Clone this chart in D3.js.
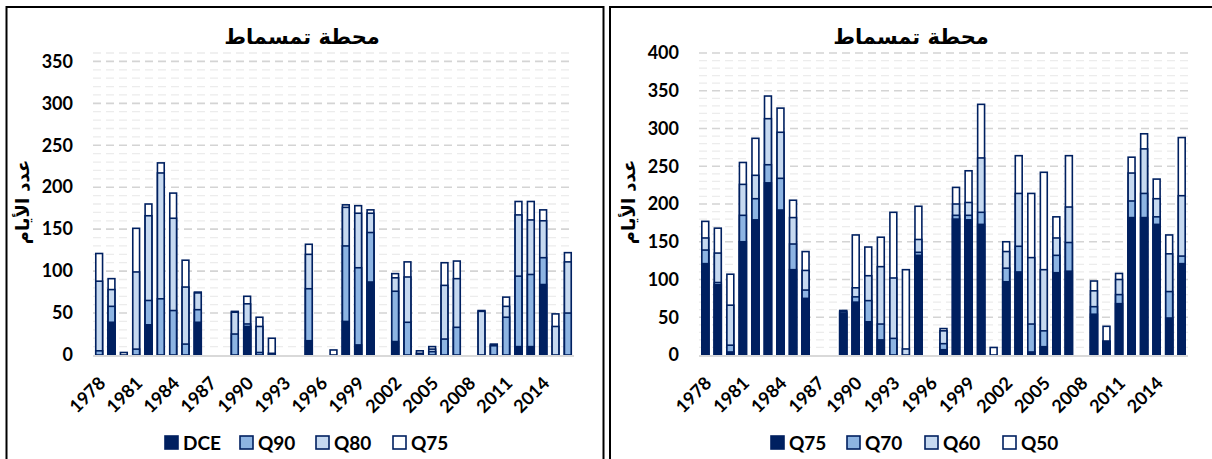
<!DOCTYPE html>
<html>
<head>
<meta charset="utf-8">
<script src="https://cdn.jsdelivr.net/npm/d3@7"></script>
<style>
  html, body { margin: 0; padding: 0; background: #fff; }
  svg { display: block; }
  .num { font-family: Lato, "Open Sans", sans-serif; font-weight: 700; fill: #000; }
  .ar { font-family: "DejaVu Sans", sans-serif; font-weight: 700; fill: #000; }
</style>
</head>
<body>
<svg id="chart" width="1212" height="459"></svg>
<script>
// Years on the category axis
const years = [1978, 1979, 1980, 1981, 1982, 1983, 1984, 1985, 1986, 1987,
               1988, 1989, 1990, 1991, 1992, 1993, 1994, 1995, 1996, 1997,
               1998, 1999, 2000, 2001, 2002, 2003, 2004, 2005, 2006, 2007,
               2008, 2009, 2010, 2011, 2012, 2013, 2014, 2015, 2016];
const yearTicks = [1978, 1981, 1984, 1987, 1990, 1993, 1996, 1999, 2002, 2005, 2008, 2011, 2014];

// Left panel: number of days per year (DCE and low-flow thresholds)
const leftQ75 = [121, 91, 3, 151, 180, 229, 193, 113, 75, 0, 0, 52, 70, 45, 20, 0, 0, 132, 0, 6,
                 179, 178, 173, 0, 97, 111, 5, 10, 110, 112, 0, 53, 13, 69, 183, 183, 173, 49, 122];
const leftQ80 = [88, 78, 0, 99, 166, 217, 163, 81, 74, 0, 0, 51, 61, 34, 2, 0, 0, 120, 0, 0,
                 176, 169, 169, 0, 92, 93, 2, 7, 83, 91, 0, 52, 12, 58, 167, 161, 160, 34, 111];
const leftQ90 = [5, 58, 0, 7, 65, 67, 53, 13, 54, 0, 0, 25, 37, 3, 0, 0, 0, 79, 0, 0,
                 130, 104, 146, 0, 76, 39, 0, 4, 19, 33, 0, 0, 11, 45, 94, 96, 116, 0, 50];
const leftDCE = [0, 39, 0, 0, 36, 0, 0, 0, 39, 0, 0, 0, 34, 0, 0, 0, 0, 17, 0, 0,
                 40, 12, 87, 0, 16, 0, 0, 0, 0, 0, 0, 0, 0, 0, 10, 10, 84, 0, 0];
const leftTicks = [0, 50, 100, 150, 200, 250, 300, 350];

// Right panel: number of days per year (flow percentiles)
const rightQ50 = [177, 168, 107, 255, 287, 343, 327, 205, 137, 0, 0, 59, 159, 143, 156, 189, 113, 197, 0, 35,
                  222, 244, 332, 10, 150, 264, 214, 242, 183, 264, 0, 98, 38, 108, 262, 293, 233, 159, 288];
const rightQ60 = [155, 135, 66, 226, 238, 313, 295, 182, 112, 0, 0, 58, 89, 105, 117, 102, 8, 153, 0, 32,
                  200, 202, 261, 0, 137, 214, 129, 113, 155, 196, 0, 85, 18, 100, 241, 273, 207, 134, 211];
const rightQ70 = [139, 96, 13, 185, 207, 252, 234, 147, 86, 0, 0, 57, 77, 72, 41, 22, 0, 136, 0, 15,
                  185, 185, 189, 0, 115, 144, 41, 32, 132, 149, 0, 64, 18, 80, 204, 214, 183, 84, 131];
const rightQ75 = [121, 93, 4, 150, 179, 228, 192, 113, 75, 0, 0, 55, 70, 44, 20, 0, 0, 132, 0, 7,
                  180, 179, 173, 0, 97, 110, 4, 11, 109, 111, 0, 54, 18, 68, 182, 182, 173, 49, 121];
const rightTicks = [0, 50, 100, 150, 200, 250, 300, 350, 400];

const title = "محطة تمسماط";
const yTitle = "عدد الأيام";

const NAVY = "#002060", MID = "#8DB4E2", LIGHT = "#C6D9F0", WHITE = "#FFFFFF";

const svg = d3.select("#chart");
svg.append("rect").attr("width", 1212).attr("height", 459).attr("fill", "#fff");

const panels = [
  {
    frame: { x: 6.5, y: 7, w: 597, h: 520 },
    plot: { x0: 93, x1: 574, top: 53, bottom: 355 },
    yMax: 360, ticks: leftTicks,
    titleX: 302, yTitleX: 23,
    // legend order: darkest first
    series: [
      { name: "DCE", values: leftDCE, fill: NAVY },
      { name: "Q90", values: leftQ90, fill: MID },
      { name: "Q80", values: leftQ80, fill: LIGHT },
      { name: "Q75", values: leftQ75, fill: WHITE }
    ],
    legendX: [164, 239, 315, 392]
  },
  {
    frame: { x: 610, y: 7, w: 620, h: 520 },
    plot: { x0: 699, x1: 1188, top: 53, bottom: 355 },
    yMax: 400, ticks: rightTicks,
    titleX: 911, yTitleX: 629,
    series: [
      { name: "Q75", values: rightQ75, fill: NAVY },
      { name: "Q70", values: rightQ70, fill: MID },
      { name: "Q60", values: rightQ60, fill: LIGHT },
      { name: "Q50", values: rightQ50, fill: WHITE }
    ],
    legendX: [770, 846, 924, 1002]
  }
];

panels.forEach(p => {
  const g = svg.append("g");

  // outer frame
  g.append("rect")
    .attr("x", p.frame.x).attr("y", p.frame.y)
    .attr("width", p.frame.w).attr("height", p.frame.h)
    .attr("fill", "none").attr("stroke", "#000").attr("stroke-width", 2);

  const x = d3.scaleBand().domain(years)
    .range([p.plot.x0, p.plot.x1])
    .paddingInner(0.45).paddingOuter(0.225);
  const y = d3.scaleLinear().domain([0, p.yMax]).range([p.plot.bottom, p.plot.top]);

  // minor gridlines every 10 days
  const minor = d3.range(10, p.yMax + 1, 10).filter(v => v % 50 !== 0);
  g.append("g").selectAll("line").data(minor).join("line")
    .attr("x1", p.plot.x0).attr("x2", p.plot.x1)
    .attr("y1", d => y(d)).attr("y2", d => y(d))
    .attr("stroke", "#ececec").attr("stroke-width", 1.3)
    .attr("stroke-dasharray", "8,5");

  // major gridlines
  g.append("g").selectAll("line").data(p.ticks.filter(v => v > 0)).join("line")
    .attr("x1", p.plot.x0).attr("x2", p.plot.x1)
    .attr("y1", d => y(d)).attr("y2", d => y(d))
    .attr("stroke", "#d4d4d4").attr("stroke-width", 1.6)
    .attr("stroke-dasharray", "8,5");

  // overlapping bars: widest-range series at the back
  const drawOrder = p.series.slice().reverse();
  drawOrder.forEach(s => {
    g.append("g").selectAll("rect")
      .data(years.map((yr, i) => ({ yr, v: s.values[i] })).filter(d => d.v > 0))
      .join("rect")
      .attr("x", d => x(d.yr))
      .attr("width", x.bandwidth())
      .attr("y", d => y(d.v))
      .attr("height", d => y(0) - y(d.v))
      .attr("fill", s.fill)
      .attr("stroke", NAVY)
      .attr("stroke-width", 1.6);
  });

  // category axis line
  g.append("line")
    .attr("x1", p.plot.x0).attr("x2", p.plot.x1)
    .attr("y1", y(0) + 1).attr("y2", y(0) + 1)
    .attr("stroke", "#d9d9d9").attr("stroke-width", 2);

  // value axis labels
  const yAxis = g.append("g")
    .attr("transform", `translate(${p.plot.x0},0)`)
    .call(d3.axisLeft(y).tickValues(p.ticks).tickSize(0).tickPadding(20));
  yAxis.select(".domain").remove();
  yAxis.selectAll("text").attr("class", "num").style("font-size", "18px");

  // rotated year labels
  const xAxis = g.append("g")
    .attr("transform", `translate(0,${y(0)})`)
    .call(d3.axisBottom(x).tickValues(yearTicks).tickSize(0).tickPadding(0));
  xAxis.select(".domain").remove();
  xAxis.selectAll("text")
    .attr("class", "num").style("font-size", "18px")
    .attr("text-anchor", "end")
    .attr("dy", "0.35em")
    .attr("y", 0)
    .attr("transform", "translate(3,25) rotate(-45)");

  // title
  g.append("text").attr("class", "ar")
    .attr("x", p.titleX).attr("y", 44)
    .attr("text-anchor", "middle")
    .style("font-size", "21px")
    .text(title);

  // value axis title
  g.append("text").attr("class", "ar")
    .attr("transform", `translate(${p.yTitleX},202) rotate(-90)`)
    .attr("text-anchor", "middle")
    .attr("dy", "0.35em")
    .style("font-size", "18px")
    .text(yTitle);

  // legend
  const lg = g.append("g");
  p.series.forEach((s, i) => {
    const lx = p.legendX[i];
    lg.append("rect")
      .attr("x", lx + 1).attr("y", 436)
      .attr("width", 13).attr("height", 13)
      .attr("fill", s.fill).attr("stroke", NAVY).attr("stroke-width", 1.6);
    lg.append("text").attr("class", "num")
      .attr("x", lx + 19).attr("y", 449.5)
      .style("font-size", "19px")
      .text(s.name);
  });
});
</script>
</body>
</html>
